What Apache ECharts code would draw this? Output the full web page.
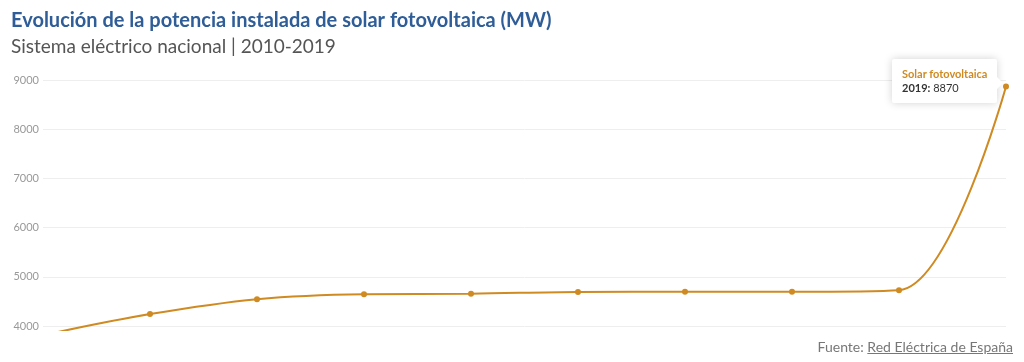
<!DOCTYPE html>
<html>
<head>
<meta charset="utf-8">
<script src="https://cdn.jsdelivr.net/npm/echarts@6/dist/echarts.min.js"></script>
<style>
  html, body { margin: 0; padding: 0; background: #fff; overflow: hidden; }
  #chart { width: 1024px; height: 362px; position: relative; }
  #fuente {
    position: absolute; right: 11px; top: 338px;
    font-family: Lato, "Noto Sans", sans-serif; font-size: 14px; color: #777;
  }
  #fuente span { text-decoration: underline; }
</style>
</head>
<body>
<div id="chart"></div>
<div id="fuente">Fuente: <span>Red Eléctrica de España</span></div>
<script>
var years = ['2010', '2011', '2012', '2013', '2014', '2015', '2016', '2017', '2018', '2019'];
var potencia = [3815, 4243, 4547, 4648, 4658, 4694, 4698, 4698, 4729, 8870];
var serieNombre = 'Solar fotovoltaica';

var chart = echarts.init(document.getElementById('chart'));

var option = {
    animation: false,
    title: {
        text: 'Evolución de la potencia instalada de solar fotovoltaica (MW)',
        subtext: 'Sistema eléctrico nacional | 2010-2019',
        left: 6,
        top: 6,
        itemGap: 6,
        textStyle: {
            color: '#2e5d97',
            fontFamily: 'Lato',
            fontWeight: 'bold',
            fontSize: 20
        },
        subtextStyle: {
            color: '#555',
            fontFamily: 'Lato',
            fontSize: 19
        }
    },
    grid: {
        left: 43,
        right: 18,
        top: 80,
        bottom: 32
    },
    tooltip: {
        trigger: 'item',
        alwaysShowContent: true,
        backgroundColor: '#fff',
        borderWidth: 0,
        padding: [8, 10],
        extraCssText: 'box-shadow:0 0 8px rgba(0,0,0,0.18);border-radius:2px;',
        position: function () {
            return [892, 59];
        },
        formatter: function (p) {
            return '<div style="font-family:Lato;font-size:11px;line-height:14px;">' +
                '<b style="color:#cf8a22">' + p.seriesName + '</b><br/>' +
                '<b style="color:#333">' + p.name + ':</b> <span style="color:#333">' + p.value + '</span></div>' +
                '<span style="position:absolute;right:-6px;top:18px;width:0;height:0;' +
                'border-top:6px solid transparent;border-bottom:6px solid transparent;border-left:6px solid #fff;"></span>';
        }
    },
    xAxis: {
        type: 'category',
        data: years,
        boundaryGap: false,
        show: false
    },
    yAxis: {
        type: 'value',
        min: 3920,
        max: 9000,
        axisLine: { show: false },
        axisTick: { show: false },
        axisLabel: {
            showMinLabel: false,
            margin: 4,
            color: '#999',
            fontFamily: 'Lato',
            fontSize: 11,
            formatter: function (v) { return String(v); }
        },
        splitLine: {
            lineStyle: {
                color: ['rgba(0,0,0,0)', '#eee', '#eee', '#eee', '#eee', '#eee', '#eee'],
                width: 1
            }
        }
    },
    series: [
        {
            name: serieNombre,
            type: 'line',
            data: potencia,
            smooth: 0.35,
            symbol: 'circle',
            symbolSize: 6,
            lineStyle: { color: '#cf8a22', width: 2 },
            itemStyle: { color: '#cf8a22' }
        }
    ]
};

chart.setOption(option);
chart.dispatchAction({ type: 'showTip', seriesIndex: 0, dataIndex: 9 });
</script>
</body>
</html>
